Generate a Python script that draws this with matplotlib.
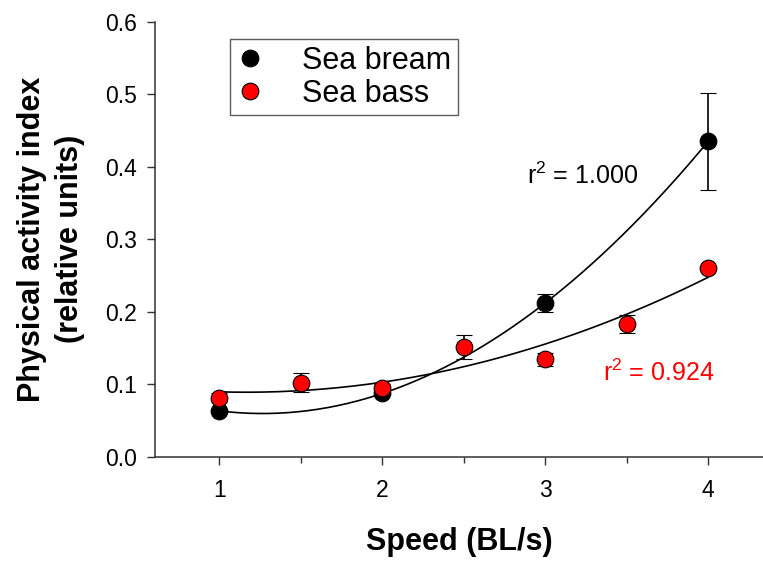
import numpy as np
import matplotlib
matplotlib.use("Agg")
import matplotlib.pyplot as plt
from matplotlib.ticker import MultipleLocator
from matplotlib.lines import Line2D

plt.rcParams['font.family'] = ['Liberation Sans', 'DejaVu Sans']
plt.rcParams['mathtext.fontset'] = 'custom'
plt.rcParams['mathtext.rm'] = 'Liberation Sans'
plt.rcParams['mathtext.it'] = 'Liberation Sans'
plt.rcParams['mathtext.default'] = 'regular'

# Data
bream_x = [1, 2, 3, 4]
bream_y = [0.063, 0.087, 0.212, 0.435]
bream_err = [0.0, 0.0, 0.013, 0.067]

bass_x = [1, 1.5, 2, 2.5, 3, 3.5, 4]
bass_y = [0.081, 0.102, 0.095, 0.151, 0.134, 0.183, 0.260]
bass_err = [0.006, 0.013, 0.005, 0.017, 0.009, 0.013, 0.0]

bream_r2 = "1.000"
bass_r2 = "0.924"

fig = plt.figure(figsize=(7.63, 5.67), dpi=100)
ax = fig.add_axes([154.7/763, 1-456.5/567, (763-154.7)/763, (456.5-22)/567])

# fitted curves
xf = np.linspace(1, 4, 200)
cb = np.polyfit(bream_x, bream_y, 3)
cs = np.polyfit(bass_x, bass_y, 2)
ax.plot(xf, np.polyval(cb, xf), color='black', lw=1.2, zorder=2)
ax.plot(xf, np.polyval(cs, xf), color='black', lw=1.2, zorder=2)

ax.errorbar(bream_x, bream_y, yerr=bream_err, fmt='o', color='black', ms=12,
            mfc='black', mec='black', mew=0.8, ecolor='black', elinewidth=1.2,
            capsize=6, capthick=1.2, zorder=3)
ax.errorbar(bass_x, bass_y, yerr=bass_err, fmt='o', color='red', ms=12,
            mfc='red', mec='black', mew=0.8, ecolor='black', elinewidth=1.2,
            capsize=6, capthick=1.2, zorder=4)

ax.text(2.886, 0.388, r'r$^{2}$ = ' + bream_r2, fontsize=18, color='black',
        va='center', ha='left')
ax.text(3.353, 0.115, r'r$^{2}$ = ' + bass_r2, fontsize=18, color='red',
        va='center', ha='left')

ax.set_xlim(0.603, 4.337)
ax.set_ylim(0, 0.6)
ax.set_xticks([1, 2, 3, 4])
ax.set_xticklabels(['1', '2', '3', '4'])
ax.xaxis.set_minor_locator(MultipleLocator(0.5))
yt = np.arange(0, 0.61, 0.1)
ax.set_yticks(yt)
ax.set_yticklabels([f'{v:.1f}' for v in yt])

for s in ['top', 'right']:
    ax.spines[s].set_visible(False)
for s in ['left', 'bottom']:
    ax.spines[s].set_color('#333333')
    ax.spines[s].set_linewidth(1.1)
ax.tick_params(which='major', direction='out', length=6, width=1.0,
               colors='#333333', labelsize=16.5, labelcolor='black')
ax.tick_params(axis='y', which='major', pad=7)
ax.tick_params(axis='x', which='minor', direction='out', length=4, width=1.0,
               colors='#333333')
ax.tick_params(axis='x', which='major', pad=10)

ax.set_xlabel('Speed (BL/s)', fontsize=22, fontweight='bold', labelpad=18)
ax.set_ylabel('Physical activity index\n(relative units)', fontsize=22,
              fontweight='bold', labelpad=14, linespacing=1.35)

handles = [
    Line2D([], [], ls='none', marker='o', ms=12, mfc='black', mec='black',
           mew=0.8),
    Line2D([], [], ls='none', marker='o', ms=12, mfc='red', mec='black',
           mew=0.8),
]
leg = ax.legend(handles, ['Sea bream', 'Sea bass'], loc='upper left',
                bbox_to_anchor=(0.124, 0.9609), fontsize=22,
                frameon=True, fancybox=False, edgecolor='#333333',
                handletextpad=1.28, borderpad=0.22, labelspacing=0.1,
                handlelength=0.85, borderaxespad=0)
leg.get_frame().set_linewidth(1.0)

fig.savefig('out.png', dpi=100)
